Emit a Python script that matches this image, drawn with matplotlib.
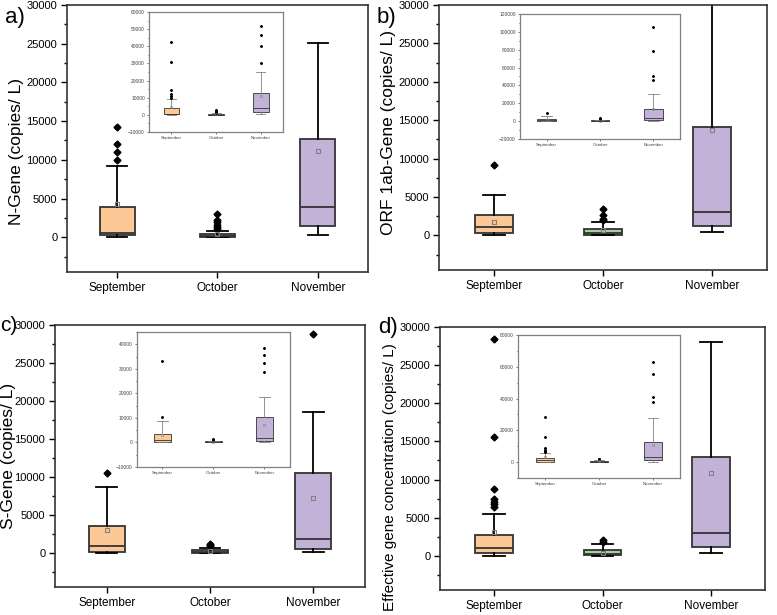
"""
Boxplots of gene concentrations per month, with zoomed-out insets
"""
import matplotlib
matplotlib.use("Agg")
import matplotlib.pyplot as plt
from matplotlib.ticker import MultipleLocator

plt.rcParams['font.family'] = ['Liberation Sans', 'DejaVu Sans']

months = ['September', 'October', 'November']
box_colors = ['#FBC896', '#A5D19B', '#C2B2D8']

# a) N-Gene
n_low = [0, 0, 300]
n_q1 = [300, 50, 1450]
n_med = [600, 150, 3900]
n_q3 = [3900, 400, 12700]
n_high = [9200, 800, 25100]
n_mean = [4300, 350, 11200]
n_fliers = [[10000, 11000, 12000, 14200, 31000, 42500],
            [1000, 1300, 1600, 1900, 2200, 3000],
            [30500, 40000, 46500, 52000]]

# b) ORF 1ab-Gene
orf_low = [0, 0, 400]
orf_q1 = [300, 50, 1200]
orf_med = [1050, 300, 3000]
orf_q3 = [2600, 850, 14100]
orf_high = [5200, 1700, 30500]
orf_mean = [1700, 650, 13700]
orf_fliers = [[9150], [1950, 2150, 2600, 3450],
              [46000, 50500, 78500, 105000]]

# c) S-Gene
s_low = [0, 0, 100]
s_q1 = [200, 50, 600]
s_med = [1000, 150, 1800]
s_q3 = [3600, 400, 10500]
s_high = [8700, 700, 18600]
s_mean = [3100, 300, 7200]
s_fliers = [[10500, 33000], [900, 1100, 1250],
            [28800, 32300, 35600, 38300]]

# d) Effective gene concentration
e_low = [0, 0, 350]
e_q1 = [350, 100, 1200]
e_med = [1100, 300, 2950]
e_q3 = [2700, 750, 12900]
e_high = [5550, 1600, 28000]
e_mean = [3100, 450, 10800]
e_fliers = [[6450, 6800, 7100, 7400, 8700, 15600, 28350],
            [1850, 2100],
            [38000, 41000, 55400, 63100]]


def make_stats(low, q1, med, q3, high, mean, fliers):
    stats = []
    for i in range(len(months)):
        stats.append(dict(whislo=low[i], q1=q1[i], med=med[i], q3=q3[i],
                          whishi=high[i], mean=mean[i], fliers=fliers[i]))
    return stats


def draw_boxes(ax, stats, small=False):
    lw = 0.6 if small else 1.3
    wcol = '#808080' if small else 'black'
    bp = ax.bxp(stats, positions=[1, 2, 3], widths=0.35, capwidths=0.2,
                patch_artist=True, showmeans=True,
                boxprops=dict(edgecolor='#333333', linewidth=lw),
                medianprops=dict(color='#333333', linewidth=lw),
                whiskerprops=dict(color=wcol, linewidth=lw),
                capprops=dict(color=wcol, linewidth=lw),
                meanprops=dict(marker='s', markerfacecolor='none',
                               markeredgecolor='#808080',
                               markersize=1.5 if small else 3.5,
                               markeredgewidth=0.4 if small else 0.8),
                flierprops=dict(marker='D', markerfacecolor='black',
                                markeredgecolor='black',
                                markersize=1.0 if small else 3.5))
    for patch, c in zip(bp['boxes'], box_colors):
        patch.set_facecolor(c)
    ax.set_xlim(0.5, 3.5)
    ax.set_xticks([1, 2, 3])
    ax.set_xticklabels(months)


def style_main(ax, ylabel, label_x, label_y, label_size):
    ax.set_ylim(-4500, 30000)
    ax.yaxis.set_major_locator(MultipleLocator(5000))
    ax.yaxis.set_minor_locator(MultipleLocator(2500))
    ax.tick_params(axis='y', which='major', direction='out', length=4,
                   width=1, labelsize=8, pad=3)
    ax.tick_params(axis='y', which='minor', direction='out', length=2,
                   width=1)
    ax.tick_params(axis='x', direction='out', length=4, width=1,
                   labelsize=8.5, pad=3)
    for sp in ax.spines.values():
        sp.set_color('#333333')
        sp.set_linewidth(1.2)
    ax.set_ylabel(ylabel, fontsize=label_size)
    ax.yaxis.set_label_coords(label_x, label_y)


def style_inset(ax, ymin, ymax, step):
    ax.set_ylim(ymin, ymax)
    ax.yaxis.set_major_locator(MultipleLocator(step))
    ax.yaxis.set_minor_locator(MultipleLocator(step / 2))
    ax.tick_params(axis='both', which='major', direction='out', length=1.5,
                   width=0.5, labelsize=3.5, pad=1.5, colors='#444444')
    ax.tick_params(axis='y', which='minor', direction='out', length=1,
                   width=0.5)
    ax.tick_params(axis='x', labelsize=3.2)
    for sp in ax.spines.values():
        sp.set_color('#808080')
        sp.set_linewidth(0.9)


fig = plt.figure(figsize=(7.77, 6.15), dpi=100)

ax_a = fig.add_axes([0.0862, 0.5577, 0.3874, 0.4341])
ax_b = fig.add_axes([0.5650, 0.5610, 0.4221, 0.4309])
ax_c = fig.add_axes([0.0708, 0.0450, 0.3990, 0.4260])
ax_d = fig.add_axes([0.5663, 0.0400, 0.4183, 0.4290])

in_a = fig.add_axes([0.1918, 0.7854, 0.1725, 0.1951])
in_b = fig.add_axes([0.6692, 0.7740, 0.2059, 0.2033])
in_c = fig.add_axes([0.1763, 0.2407, 0.1969, 0.2195])
in_d = fig.add_axes([0.6667, 0.2228, 0.2085, 0.2325])

stats_a = make_stats(n_low, n_q1, n_med, n_q3, n_high, n_mean, n_fliers)
stats_b = make_stats(orf_low, orf_q1, orf_med, orf_q3, orf_high, orf_mean,
                     orf_fliers)
stats_c = make_stats(s_low, s_q1, s_med, s_q3, s_high, s_mean, s_fliers)
stats_d = make_stats(e_low, e_q1, e_med, e_q3, e_high, e_mean, e_fliers)

draw_boxes(ax_a, stats_a)
draw_boxes(ax_b, stats_b)
draw_boxes(ax_c, stats_c)
draw_boxes(ax_d, stats_d)
style_main(ax_a, 'N-Gene (copies/ L)', -0.143, 0.45, 12.5)
style_main(ax_b, 'ORF 1ab-Gene (copies/ L)', -0.131, 0.52, 12.5)
style_main(ax_c, 'S-Gene (copies/ L)', -0.126, 0.5, 12.5)
style_main(ax_d, 'Effective gene concentration (copies/ L)', -0.132, 0.43,
           11)

draw_boxes(in_a, stats_a, small=True)
draw_boxes(in_b, stats_b, small=True)
draw_boxes(in_c, stats_c, small=True)
draw_boxes(in_d, stats_d, small=True)
style_inset(in_a, -10000, 60000, 10000)
style_inset(in_b, -20000, 120000, 20000)
style_inset(in_c, -10000, 45000, 10000)
style_inset(in_d, -10000, 80000, 20000)

fig.text(0.007, 0.972, 'a)', fontsize=16, va='center')
fig.text(0.484, 0.972, 'b)', fontsize=16, va='center')
fig.text(0.000, 0.470, 'c)', fontsize=15, va='center')
fig.text(0.487, 0.468, 'd)', fontsize=16, va='center')

fig.savefig('out.png', dpi=100)
